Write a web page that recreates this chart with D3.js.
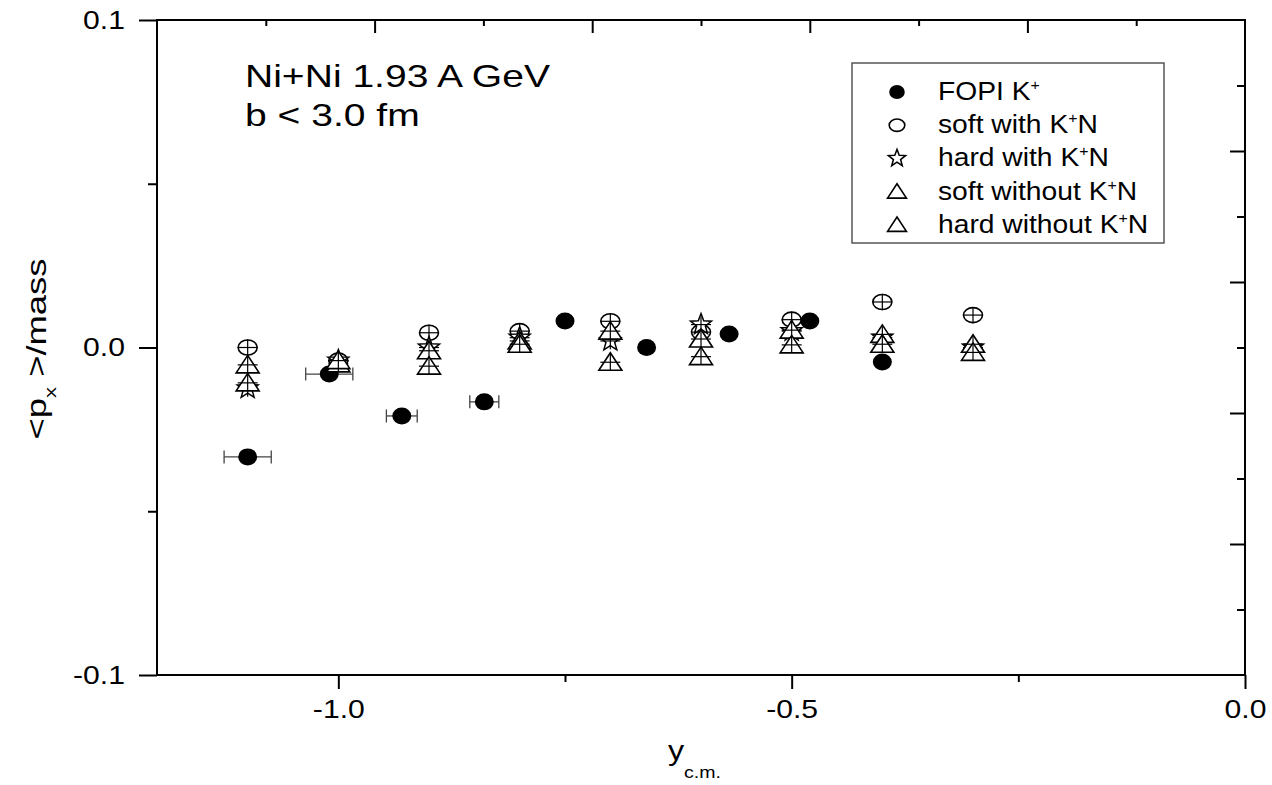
<!DOCTYPE html>
<html>
<head>
<meta charset="utf-8">
<script src="https://cdn.jsdelivr.net/npm/d3@7"></script>
<style>
  html, body { margin: 0; padding: 0; background: #fff; }
  svg { display: block; font-family: "Liberation Sans", Arial, sans-serif; }
</style>
</head>
<body>
<svg id="chart" width="1272" height="785"></svg>
<script>
// ---------------- data ----------------
const fopiX    = [-1.10, -1.01, -0.93, -0.839, -0.75, -0.66, -0.569, -0.48, -0.40];
const fopiY    = [-0.0334, -0.0081, -0.0209, -0.0166, 0.0081, 0.0, 0.0041, 0.0081, -0.0044];
const fopiXErr = [0.026, 0.026, 0.017, 0.016, 0, 0, 0, 0, 0];

const modelX      = [-1.1, -1.0, -0.9, -0.8, -0.7, -0.6, -0.5, -0.4, -0.3];
const softWith    = [0.0, -0.004, 0.0045, 0.005, 0.008, 0.0047, 0.0085, 0.0139, 0.0099];
const hardWith    = [-0.0125, -0.004, 0.0, 0.003, 0.002, 0.007, 0.005, 0.003, 0.0];
const softWithout = [-0.0053, -0.005, -0.001, 0.002, 0.005, 0.0026, 0.0053, 0.004, 0.001];
const hardWithout = [-0.0108, -0.004, -0.0057, 0.001, -0.0045, -0.0028, 0.0008, 0.001, -0.0015];
const modelXErr = 0.011;
const modelYErr = 0.0025;

const xMajorTicks = [-1.0, -0.5, 0.0];
const xMinorTicks = [-0.75, -0.25];
const yMajorTicks = [-0.1, 0.0, 0.1];
const yMinorTicks = [-0.05, 0.05];
const frameMajor = [2, 4, 6, 8];
const frameMinor = [1, 3, 5, 7, 9];

const legendLabels = [
  ["FOPI K", "+", ""],
  ["soft with K", "+", "N"],
  ["hard with K", "+", "N"],
  ["soft without K", "+", "N"],
  ["hard without K", "+", "N"]
];

// ---------------- layout ----------------
const L = 157, R = 1245, T = 20, B = 675;
const TICK_SX = 1.16;
const svg = d3.select("#chart");
const x = d3.scaleLinear().domain([-1.2, 0]).range([L, R]);
const y = d3.scaleLinear().domain([-0.1, 0.1]).range([B, T]);
const fx = d3.scaleLinear().domain([0, 10]).range([L, R]);
const fy = d3.scaleLinear().domain([0, 10]).range([T, B]);
const fmt = d => d.toFixed(1);

function styleAxis(g) {
  g.select(".domain").remove();
  g.selectAll(".tick line").attr("stroke", "#000").attr("stroke-width", 2);
}

// bottom axis
const bMaj = svg.append("g").attr("transform", `translate(0,${B})`)
  .call(d3.axisBottom(x).tickValues(xMajorTicks).tickFormat(fmt).tickSize(14).tickPadding(11));
const bMin = svg.append("g").attr("transform", `translate(0,${B})`)
  .call(d3.axisBottom(x).tickValues(xMinorTicks).tickFormat("").tickSize(7));
// left axis
const lMaj = svg.append("g").attr("transform", `translate(${L},0)`)
  .call(d3.axisLeft(y).tickValues(yMajorTicks).tickFormat(fmt).tickSize(18).tickPadding(14));
const lMin = svg.append("g").attr("transform", `translate(${L},0)`)
  .call(d3.axisLeft(y).tickValues(yMinorTicks).tickFormat("").tickSize(9));
// top axis (inward)
const tMaj = svg.append("g").attr("transform", `translate(0,${T})`)
  .call(d3.axisTop(fx).tickValues(frameMajor).tickFormat("").tickSize(-13));
const tMin = svg.append("g").attr("transform", `translate(0,${T})`)
  .call(d3.axisTop(fx).tickValues(frameMinor).tickFormat("").tickSize(-6));
// right axis (inward)
const rMaj = svg.append("g").attr("transform", `translate(${R},0)`)
  .call(d3.axisRight(fy).tickValues(frameMajor).tickFormat("").tickSize(-15));
const rMin = svg.append("g").attr("transform", `translate(${R},0)`)
  .call(d3.axisRight(fy).tickValues(frameMinor).tickFormat("").tickSize(-8));

[bMaj, bMin, lMaj, lMin, tMaj, tMin, rMaj, rMin].forEach(styleAxis);

// tick label styling
bMaj.selectAll(".tick text").attr("font-size", 26).attr("fill", "#000")
  .attr("font-family", "Liberation Sans, Arial, sans-serif")
  .attr("transform", `scale(${TICK_SX},1)`);
lMaj.selectAll(".tick text").each(function () {
  const t = d3.select(this);
  const xv = +t.attr("x");
  t.attr("x", xv / TICK_SX).attr("transform", `scale(${TICK_SX},1)`);
}).attr("font-size", 26).attr("fill", "#000")
  .attr("font-family", "Liberation Sans, Arial, sans-serif");

// frame
svg.append("rect").attr("x", L).attr("y", T).attr("width", R - L).attr("height", B - T)
  .attr("fill", "none").attr("stroke", "#000").attr("stroke-width", 2);

// ---------------- symbols ----------------
function starPath(ro, ri) {
  const pts = [];
  for (let i = 0; i < 10; i++) {
    const r = i % 2 === 0 ? ro : ri;
    const a = -Math.PI / 2 + i * Math.PI / 5;
    pts.push([r * Math.cos(a), r * Math.sin(a)]);
  }
  return "M" + pts.map(p => p.join(",")).join("L") + "Z";
}
const triPath = "M0,-9.5L11.5,8L-11.5,8Z";
const star = starPath(11, 4.6);

function drawSymbol(g, type, cx, cy, scale = 1) {
  if (type === "filled") {
    g.append("ellipse").attr("cx", cx).attr("cy", cy).attr("rx", 9.5 * scale).attr("ry", 8.5 * scale)
      .attr("fill", "#000");
  } else if (type === "circle") {
    g.append("ellipse").attr("cx", cx).attr("cy", cy).attr("rx", 9.5 * scale).attr("ry", 7.5 * scale)
      .attr("fill", "#fff").attr("stroke", "#000").attr("stroke-width", 1.6);
  } else if (type === "star") {
    g.append("path").attr("d", star).attr("transform", `translate(${cx},${cy}) scale(${scale})`)
      .attr("fill", "#fff").attr("stroke", "#000").attr("stroke-width", 1.5 / scale);
  } else if (type === "tri") {
    g.append("path").attr("d", triPath).attr("transform", `translate(${cx},${cy}) scale(${scale})`)
      .attr("fill", "#fff").attr("stroke", "#000").attr("stroke-width", 1.6 / scale);
  }
}

// FOPI data with x error bars
const gF = svg.append("g");
fopiX.forEach((xv, i) => {
  const e = fopiXErr[i];
  if (e > 0) {
    const x0 = x(xv - e), x1 = x(xv + e), yy = y(fopiY[i]);
    gF.append("line").attr("x1", x0).attr("x2", x1).attr("y1", yy).attr("y2", yy)
      .attr("stroke", "#444").attr("stroke-width", 1.3);
    [x0, x1].forEach(xx => gF.append("line").attr("x1", xx).attr("x2", xx)
      .attr("y1", yy - 6.5).attr("y2", yy + 6.5).attr("stroke", "#444").attr("stroke-width", 1.3));
  }
  drawSymbol(gF, "filled", x(xv), y(fopiY[i]));
});

// model series
const models = [
  { vals: softWith, type: "circle" },
  { vals: hardWith, type: "star" },
  { vals: softWithout, type: "tri" },
  { vals: hardWithout, type: "tri" }
];
models.forEach(m => {
  const g = svg.append("g");
  m.vals.forEach((v, i) => {
    const cx = x(modelX[i]), cy = y(v);
    drawSymbol(g, m.type, cx, cy);
    g.append("line").attr("x1", cx).attr("x2", cx).attr("y1", y(v + modelYErr)).attr("y2", y(v - modelYErr))
      .attr("stroke", "#000").attr("stroke-width", 1.2);
    g.append("line").attr("x1", x(modelX[i] - modelXErr)).attr("x2", x(modelX[i] + modelXErr))
      .attr("y1", cy).attr("y2", cy).attr("stroke", "#000").attr("stroke-width", 1.2);
  });
});

// ---------------- texts ----------------
function sText(xp, yp, size, anchor, sx, extra = "") {
  const g = svg.append("g").attr("transform", `translate(${xp},${yp}) ${extra} scale(${sx},1)`);
  return g.append("text").attr("font-size", size).attr("text-anchor", anchor).attr("fill", "#000");
}

sText(245, 87, 31, "start", 1.26).text("Ni+Ni 1.93 A GeV");
sText(245, 126, 31, "start", 1.26).text("b < 3.0 fm");

// legend
svg.append("rect").attr("x", 852).attr("y", 63).attr("width", 312).attr("height", 180)
  .attr("fill", "#fff").attr("stroke", "#555").attr("stroke-width", 1.5);
const legTypes = ["filled", "circle", "star", "tri", "tri"];
const gL = svg.append("g");
legendLabels.forEach((lab, i) => {
  const base = 100 + i * 33.2;
  drawSymbol(gL, legTypes[i], 897, base - 8, 0.82);
  const t = sText(938, base, 25, "start", 1.13);
  t.append("tspan").text(lab[0]);
  t.append("tspan").attr("font-size", 14).attr("dy", -10).text(lab[1]);
  if (lab[2]) t.append("tspan").attr("font-size", 25).attr("dy", 10).text(lab[2]);
});

// y label
const yl = sText(46, 349, 28, "middle", 1.3, "rotate(-90)");
yl.append("tspan").text("<p");
yl.append("tspan").attr("font-size", 17).attr("dy", 10).text("x");
yl.append("tspan").attr("dy", -10).text(" >/mass");

// x label
const xl = sText(668, 760, 28, "start", 1.15);
xl.append("tspan").text("y");
xl.append("tspan").attr("font-size", 17).attr("dy", 18).text("c.m.");
</script>
</body>
</html>
